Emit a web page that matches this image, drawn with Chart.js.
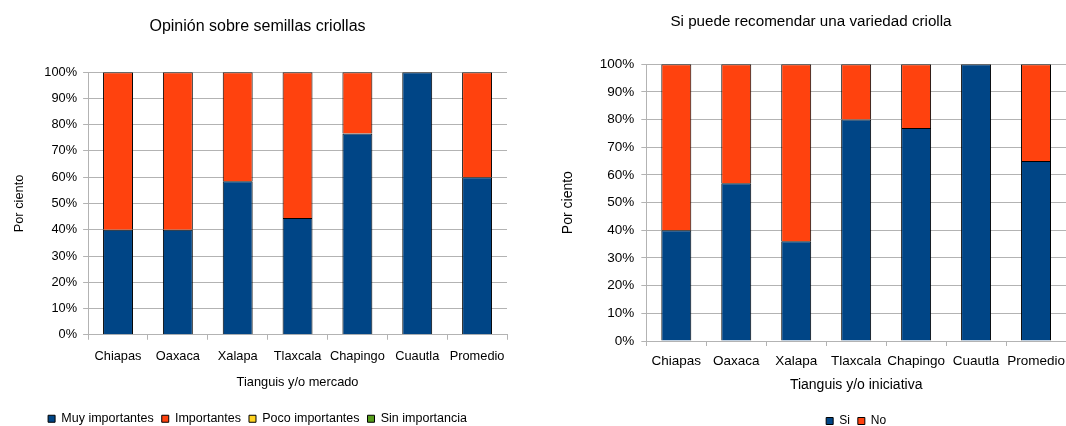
<!DOCTYPE html>
<html>
<head>
<meta charset="utf-8">
<script src="https://cdn.jsdelivr.net/npm/chart.js@4.4.1/dist/chart.umd.min.js"></script>
<style>
  html, body { margin: 0; background: #fff; height: 426px; overflow: hidden; }
  #wrap1 { position: absolute; left: 0; top: 0; width: 540px; height: 437px; }
  #wrap2 { position: absolute; left: 540px; top: 0; width: 526px; height: 437px; }
</style>
</head>
<body>
<div id="wrap1"><canvas id="chart1"></canvas></div>
<div id="wrap2"><canvas id="chart2"></canvas></div>
<script>
// categories
const mercados = ['Chiapas', 'Oaxaca', 'Xalapa', 'Tlaxcala', 'Chapingo', 'Cuautla', 'Promedio'];

// chart 1 - opinion sobre semillas criollas
const muyImportantes = [40, 40, 58.5, 44.5, 76.7, 100, 60];
const importantes = [60, 60, 41.5, 55.5, 23.3, 0, 40];
const pocoImportantes = [0, 0, 0, 0, 0, 0, 0];
const sinImportancia = [0, 0, 0, 0, 0, 0, 0];

// chart 2 - si puede recomendar
const si = [40, 57, 36, 80, 77, 100, 65];
const no = [60, 43, 64, 20, 23, 0, 35];

const yTicks = [0, 10, 20, 30, 40, 50, 60, 70, 80, 90, 100];

Chart.defaults.font.family = '"Liberation Sans", Arial, sans-serif';
Chart.defaults.color = '#000';
Chart.defaults.animation = false;

const gridGray = '#b3b3b3';

function barSet(label, data, color) {
    return {
        label: label,
        data: data,
        backgroundColor: color,
        borderColor: '#000',
        borderWidth: 1,
        barPercentage: 0.5,
        categoryPercentage: 1
    };
}

// s = settings for each chart (font sizes, paddings)
function makeOptions(s) {
    return {
        responsive: true,
        maintainAspectRatio: false,
        layout: { padding: s.pad },
        plugins: {
            title: {
                display: true,
                text: s.title,
                font: { size: s.titleSize, weight: 'normal' },
                padding: s.titlePad
            },
            legend: {
                position: 'bottom',
                fullSize: s.legendFull,
                labels: {
                    boxWidth: 7,
                    boxHeight: 7,
                    font: { size: s.legendSize },
                    padding: 8
                }
            },
            tooltip: { enabled: false }
        },
        scales: {
            x: {
                stacked: true,
                grid: {
                    offset: true,
                    color: function(ctx) {
                        return (ctx.index === 0 || ctx.index === mercados.length) ? gridGray : 'rgba(0,0,0,0)';
                    },
                    tickColor: gridGray,
                    tickLength: 5
                },
                border: { color: gridGray },
                ticks: { font: { size: s.tickSize }, padding: s.xTickPad, maxRotation: 0, autoSkip: false },
                title: { display: true, text: s.xTitle, font: { size: s.axisTitleSize }, padding: s.xTitlePad },
                afterFit: function(axis) {
                    if (s.noEdgePad) {
                        axis.paddingLeft = 0;
                        axis.paddingRight = 0;
                    }
                }
            },
            y: {
                stacked: true,
                min: 0,
                max: 100,
                afterBuildTicks: function(axis) {
                    axis.ticks = yTicks.map(v => ({ value: v }));
                },
                grid: { color: gridGray, tickLength: 5, tickColor: gridGray },
                border: { color: gridGray },
                ticks: {
                    font: { size: s.tickSize },
                    padding: s.yTickPad,
                    callback: v => v + '%'
                },
                title: { display: true, text: 'Por ciento', font: { size: s.axisTitleSize }, padding: { bottom: s.yTitlePad } }
            }
        }
    };
}

new Chart(document.getElementById('chart1'), {
    type: 'bar',
    data: {
        labels: mercados,
        datasets: [
            barSet('Muy importantes', muyImportantes, '#004586'),
            barSet('Importantes', importantes, '#ff420e'),
            barSet('Poco importantes', pocoImportantes, '#ffd320'),
            barSet('Sin importancia', sinImportancia, '#579d1c')
        ]
    },
    options: makeOptions({
        title: 'Opinión sobre semillas criollas', titleSize: 16, titlePad: { top: 17, bottom: 36 },
        xTitle: 'Tianguis y/o mercado', pad: { left: 8, right: 33, top: 0, bottom: 2 },
        tickSize: 12.8, axisTitleSize: 12.8, legendSize: 12.5, legendFull: true,
        xTickPad: 9.5, xTitlePad: { top: 1, bottom: 14 }, yTickPad: 6, yTitlePad: 11, noEdgePad: false
    })
});

new Chart(document.getElementById('chart2'), {
    type: 'bar',
    data: {
        labels: mercados,
        datasets: [
            barSet('Si', si, '#004586'),
            barSet('No', no, '#ff420e')
        ]
    },
    options: makeOptions({
        title: 'Si puede recomendar una variedad criolla', titleSize: 15.2, titlePad: { top: 13, bottom: 33 },
        xTitle: 'Tianguis y/o iniciativa', pad: { left: 16, right: 0, top: 0, bottom: 0 },
        tickSize: 13.5, axisTitleSize: 14, legendSize: 12, legendFull: false,
        xTickPad: 7, xTitlePad: { top: 1, bottom: 13 }, yTickPad: 7, yTitlePad: 16, noEdgePad: true
    })
});
</script>
</body>
</html>
